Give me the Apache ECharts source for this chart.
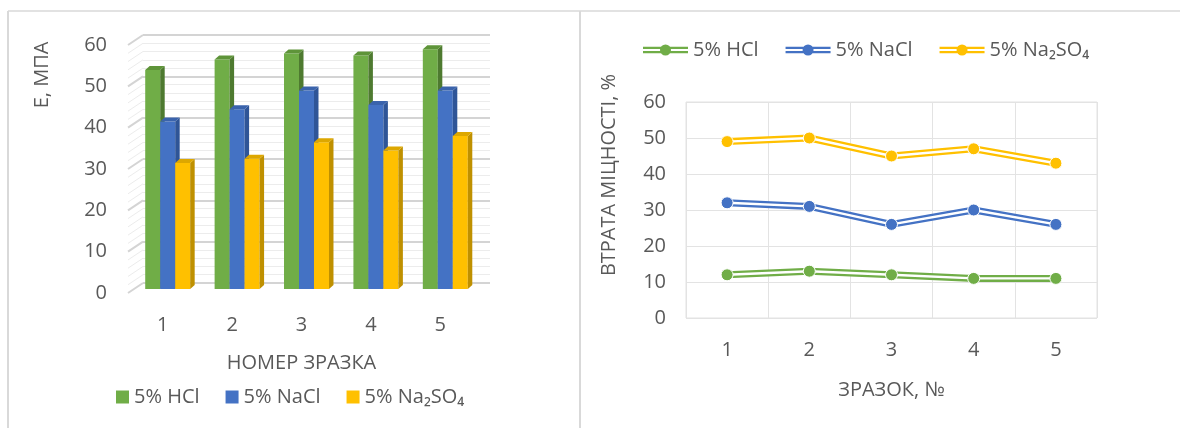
<!DOCTYPE html>
<html>
<head>
<meta charset="utf-8">
<script src="https://cdn.jsdelivr.net/npm/echarts@6/dist/echarts.min.js"></script>
<style>
  html, body { margin: 0; padding: 0; background: #ffffff; }
  #chart { width: 1180px; height: 428px; }
</style>
</head>
<body>
<div id="chart"></div>
<script>
// Sample numbers shared by both panels
const categories = ['1', '2', '3', '4', '5'];
const seriesNames = ['5% HCl', '5% NaCl', '5% Na₂SO₄'];

// Left panel: elastic modulus E, MPa
const modulusHCl = [53, 55.5, 57, 56.5, 58];
const modulusNaCl = [40.5, 43.5, 48, 44.5, 48];
const modulusNa2SO4 = [30.5, 31.5, 35.5, 33.5, 37];

// Right panel: strength loss, %
const lossHCl = [12, 13, 12, 11, 11];
const lossNaCl = [32, 31, 26, 30, 26];
const lossNa2SO4 = [49, 50, 45, 47, 43];

// Value axis range and tick positions of the back wall (major and minor)
const yMin = 0, yMax = 60, yStep = 10;
const wallTicks = [0, 2, 4, 6, 8, 10, 12, 14, 16, 18, 20, 22, 24, 26, 28, 30,
  32, 34, 36, 38, 40, 42, 44, 46, 48, 50, 52, 54, 56, 58, 60];

const frontColors = ['#70AD47', '#4472C4', '#FFC000'];
const sideColors = ['#4E7A30', '#2F5597', '#BF9000'];
const topColors = ['#5E9439', '#3A63AC', '#DDA700'];
const textColor = '#595959';
const font = '"Open Sans", "DejaVu Sans", sans-serif';

const chart = echarts.init(document.getElementById('chart'), null, { renderer: 'canvas' });

// 3D column: front face, right side face and top face
const DEPTH_X = 4.5, DEPTH_Y = 4;
function columnRenderer(seriesIdx) {
  return function (params, api) {
    const cat = api.value(0);
    const v = api.value(1);
    const base = api.coord([cat, 0]);
    const top = api.coord([cat, v]);
    const band = api.size([1, 0])[0];
    const bw = band * 0.216;
    const x0 = base[0] + (seriesIdx - 1.5) * bw;
    const yTop = top[1], yBot = base[1];
    return {
      type: 'group',
      children: [
        { type: 'rect', shape: { x: x0, y: yTop, width: bw, height: yBot - yTop },
          style: { fill: frontColors[seriesIdx] } },
        { type: 'polygon', shape: { points: [
            [x0 + bw, yTop], [x0 + bw + DEPTH_X, yTop - DEPTH_Y],
            [x0 + bw + DEPTH_X, yBot - DEPTH_Y], [x0 + bw, yBot]] },
          style: { fill: sideColors[seriesIdx] } },
        { type: 'polygon', shape: { points: [
            [x0, yTop], [x0 + DEPTH_X, yTop - DEPTH_Y],
            [x0 + bw + DEPTH_X, yTop - DEPTH_Y], [x0 + bw, yTop]] },
          style: { fill: topColors[seriesIdx] } }
      ]
    };
  };
}

// Side-wall strokes joining the front plane to the back-wall gridlines
function wallRenderer(params, api) {
  const t = api.value(1);
  const left = params.coordSys.x;
  const y = api.coord([0, t])[1];
  const major = t % yStep === 0;
  return {
    type: 'line',
    shape: { x1: left - 15, y1: y + 10, x2: left, y2: y },
    style: { stroke: major ? '#D4D4D4' : '#ECECEC', lineWidth: major ? 2 : 1 }
  };
}

function columnSeries(name, values, idx) {
  return {
    type: 'custom', name: name,
    xAxisIndex: 2, yAxisIndex: 2,
    itemStyle: { color: frontColors[idx] },
    encode: { x: 0, y: 1 },
    data: values.map((v, i) => [i, v]),
    renderItem: columnRenderer(idx),
    z: 3
  };
}

// Double line: wide coloured stroke under a thin white core carrying the markers
function lineOutline(name, values, idx) {
  return {
    type: 'line', name: name + ' outline',
    xAxisIndex: 3, yAxisIndex: 3,
    data: values, showSymbol: false, silent: true,
    lineStyle: { color: frontColors[idx], width: 7 },
    itemStyle: { color: frontColors[idx] },
    z: 2
  };
}
function lineCore(name, values, idx) {
  return {
    type: 'line', name: name,
    xAxisIndex: 3, yAxisIndex: 3,
    data: values, symbol: 'circle', symbolSize: 12, showSymbol: true,
    lineStyle: { color: '#ffffff', width: 2.4 },
    itemStyle: { color: frontColors[idx], borderColor: '#ffffff', borderWidth: 1 },
    z: 3
  };
}

const doubleLineIcon = 'path://M0,2.2H45V4.5H0Z M0,6.5H45V8.8H0Z M17,5.5A5.5,5.5 0 1 1 28,5.5A5.5,5.5 0 1 1 17,5.5Z';

const labelStyle = { color: textColor, fontSize: 20, fontFamily: font };

const option = {
  animation: false,
  backgroundColor: '#ffffff',
  textStyle: { fontFamily: font, color: textColor },
  graphic: [
    { type: 'line', shape: { x1: 8, y1: 11, x2: 1180, y2: 11 }, style: { stroke: '#D9D9D9', lineWidth: 1.5 } },
    { type: 'line', shape: { x1: 8, y1: 11, x2: 8, y2: 428 }, style: { stroke: '#D9D9D9', lineWidth: 2 } },
    { type: 'line', shape: { x1: 580, y1: 11, x2: 580, y2: 428 }, style: { stroke: '#D9D9D9', lineWidth: 2 } },
    { type: 'text', x: 42, y: 75, rotation: Math.PI / 2,
      style: { text: 'Е, МПА', fill: textColor, font: '20px ' + font, align: 'center', verticalAlign: 'middle' } },
    { type: 'text', x: 609, y: 175, rotation: Math.PI / 2,
      style: { text: 'ВТРАТА МІЦНОСТІ, %', fill: textColor, font: '20px ' + font, align: 'center', verticalAlign: 'middle' } }
  ],
  legend: [
    {
      data: seriesNames, left: 116, top: 387, padding: 0, icon: 'rect',
      itemWidth: 13, itemHeight: 13, itemGap: 26,
      textStyle: labelStyle,
      selectedMode: false
    },
    {
      data: seriesNames, left: 643, top: 40, padding: 0, icon: doubleLineIcon,
      itemWidth: 45, itemHeight: 11, itemGap: 27,
      itemStyle: { borderWidth: 0 },
      textStyle: labelStyle,
      selectedMode: false
    }
  ],
  grid: [
    { left: 128, top: 45, width: 347, height: 248 },
    { left: 143, top: 35, width: 347, height: 248 },
    { left: 133, top: 41, width: 347, height: 248 },
    { left: 686, top: 102, width: 411, height: 216,
      show: true, borderColor: '#E3E3E3', borderWidth: 1 }
  ],
  xAxis: [
    { gridIndex: 0, type: 'category', data: categories,
      axisLine: { show: false }, axisTick: { show: false },
      axisLabel: Object.assign({ margin: 22 }, labelStyle),
      name: 'НОМЕР ЗРАЗКА', nameLocation: 'middle', nameGap: 60,
      nameTextStyle: labelStyle },
    { gridIndex: 1, type: 'category', data: categories, show: false },
    { gridIndex: 2, type: 'category', data: categories, show: false },
    { gridIndex: 3, type: 'category', data: categories, boundaryGap: true,
      axisLine: { show: false }, axisTick: { show: false },
      axisLabel: Object.assign({ margin: 22 }, labelStyle),
      splitLine: { show: true, lineStyle: { color: '#E3E3E3', width: 1 } },
      name: 'ЗРАЗОК, №', nameLocation: 'middle', nameGap: 62,
      nameTextStyle: labelStyle }
  ],
  yAxis: [
    { gridIndex: 0, type: 'value', min: yMin, max: yMax, interval: yStep,
      axisLine: { show: false }, axisTick: { show: false }, splitLine: { show: false },
      axisLabel: Object.assign({ margin: 21 }, labelStyle) },
    { gridIndex: 1, type: 'value', min: yMin, max: yMax, interval: yStep,
      axisLine: { show: false }, axisTick: { show: false }, axisLabel: { show: false },
      splitLine: { show: true, lineStyle: { color: '#D4D4D4', width: 2 } },
      minorTick: { show: false, splitNumber: 5 },
      minorSplitLine: { show: true, lineStyle: { color: '#ECECEC', width: 1 } } },
    { gridIndex: 2, type: 'value', min: yMin, max: yMax, interval: yStep, show: false },
    { gridIndex: 3, type: 'value', min: yMin, max: yMax, interval: yStep,
      axisLine: { show: false }, axisTick: { show: false },
      splitLine: { show: true, lineStyle: { color: '#E3E3E3', width: 1 } },
      axisLabel: Object.assign({ margin: 20 }, labelStyle) }
  ],
  series: [
    {
      type: 'custom', name: 'side wall', silent: true,
      xAxisIndex: 1, yAxisIndex: 1,
      encode: { x: 0, y: 1 },
      data: wallTicks.map(t => [0, t]),
      renderItem: wallRenderer, z: 1
    },
    columnSeries(seriesNames[0], modulusHCl, 0),
    columnSeries(seriesNames[1], modulusNaCl, 1),
    columnSeries(seriesNames[2], modulusNa2SO4, 2),
    lineOutline(seriesNames[0], lossHCl, 0),
    lineOutline(seriesNames[1], lossNaCl, 1),
    lineOutline(seriesNames[2], lossNa2SO4, 2),
    lineCore(seriesNames[0], lossHCl, 0),
    lineCore(seriesNames[1], lossNaCl, 1),
    lineCore(seriesNames[2], lossNa2SO4, 2)
  ]
};

chart.setOption(option);
</script>
</body>
</html>
